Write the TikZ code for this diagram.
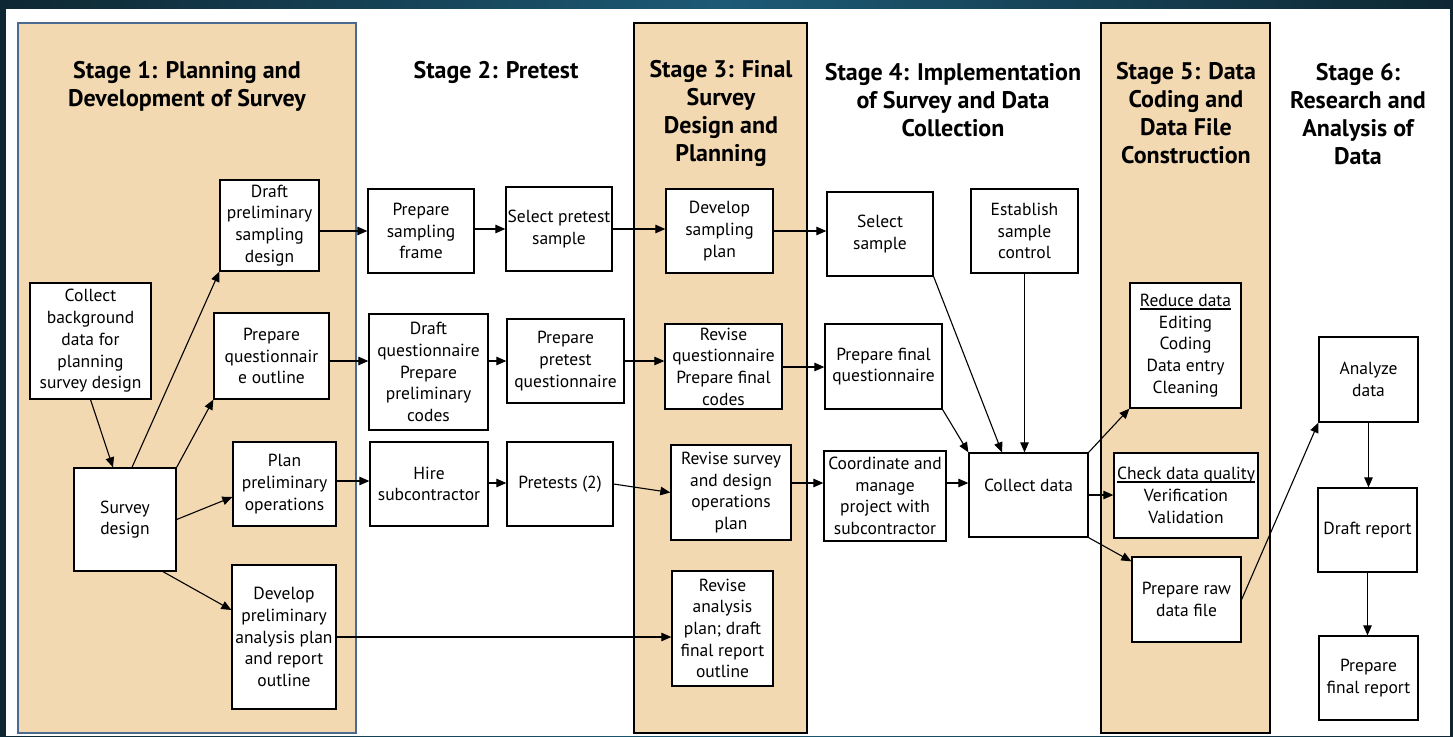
\documentclass[tikz,border=0pt]{standalone}
\usepackage{fontspec}
\setmainfont{PT Sans}
\usetikzlibrary{arrows.meta}
\definecolor{tanfill}{HTML}{F3D9B1}
\definecolor{panelblue}{HTML}{4A6A92}
\definecolor{frameA}{HTML}{0E2733}
\definecolor{frameB}{HTML}{1D5A75}
\newcommand{\thul}[1]{\leavevmode\setbox0=\hbox{#1}\rlap{\rule[-3.5pt]{\wd0}{2pt}}\box0}
\newcommand{\bx}[6]{\node[box, minimum width={(#4-#2)*1pt}, minimum height={(#5-#3)*1pt}] (#1) at ({(#2+#4)/2},{(#3+#5)/2}) {#6};}
\begin{document}
\begin{tikzpicture}[x=1pt,y=-1pt,
  box/.style={draw=black, fill=white, line width=1.3pt, align=center, inner sep=0pt, font=\fontsize{17.5}{21.7}\selectfont},
  lbl/.style={align=center, inner sep=0pt, font=\fontsize{17.5}{21.7}\selectfont},
  title/.style={align=center, inner sep=0pt, font=\fontsize{24}{28}\selectfont\bfseries},
  panelA/.style={draw=panelblue, fill=tanfill, line width=1.3pt},
  panelB/.style={draw=black, fill=tanfill, line width=1.3pt},
  arr/.style={-{Triangle[length=10pt,width=8.5pt]}, line width=1.1pt}]
\useasboundingbox (0,0) rectangle (1453,736);
\shade[left color=frameA, right color=frameA, middle color=frameB] (0,0) rectangle (1453,736);
\fill[white] (6,9) rectangle (1450,736);
% panels
\draw[panelA] (18,23) rectangle (356,733);
\draw[panelB] (634,23) rectangle (807,733);
\draw[panelB] (1101,23) rectangle (1270,733);
% titles
\node[title] (t1) at (187,86) {Stage 1: Planning and\\Development of Survey};
\node[title] (t2) at (496,72) {Stage 2: Pretest};
\node[title] (t3) at (721,113) {Stage 3: Final\\Survey\\Design and\\Planning};
\node[title] (t4) at (953,100) {Stage 4: Implementation\\of Survey and Data\\Collection};
\node[title] (t5) at (1186,113) {Stage 5: Data\\Coding and\\Data File\\Construction};
\node[title] (t6) at (1358,114) {Stage 6:\\Research and\\Analysis of\\Data};
% boxes
\bx{collectbg}{30}{283}{151}{399}{Collect\\background\\data for\\planning\\survey design}
\bx{survey}{74}{468}{176}{571}{Survey\\design}
\bx{draftsamp}{220}{180}{319}{271}{Draft\\preliminary\\sampling\\design}
\bx{qoutline}{214}{313}{329}{399}{Prepare\\questionnair\\e outline}
\bx{planops}{233}{442}{336}{526}{Plan\\preliminary\\operations}
\bx{devanal}{232}{565}{336}{709}{Develop\\preliminary\\analysis plan\\and report\\outline}
\bx{sampframe}{368}{189}{474}{273}{Prepare\\sampling\\frame}
\bx{selpre}{506}{187}{612}{271}{Select pretest\\sample}
\bx{draftq}{369}{314}{488}{430}{Draft\\questionnaire\\Prepare\\preliminary\\codes}
\bx{prepq}{507}{319}{624}{403}{Prepare\\pretest\\questionnaire}
\bx{hire}{370}{442}{488}{526}{Hire\\subcontractor}
\bx{pretests}{507}{442}{613}{526}{Pretests (2)}
\bx{devsamp}{666}{189}{773}{273}{Develop\\sampling\\plan}
\bx{revq}{665}{324}{782}{409}{Revise\\questionnaire\\Prepare final\\codes}
\bx{revsurv}{671}{445}{791}{540}{Revise survey\\and design\\operations\\plan}
\bx{revanal}{672}{571}{773}{686}{Revise\\analysis\\plan; draft\\final report\\outline}
\bx{selsamp}{827}{192}{933}{276}{Select\\sample}
\bx{establish}{971}{189}{1078}{273}{Establish\\sample\\control}
\bx{prepfq}{825}{324}{942}{409}{Prepare final\\questionnaire}
\bx{coord}{824}{451}{946}{541}{Coordinate and\\manage\\project with\\subcontractor}
\bx{collect}{969}{453}{1088}{537}{}
\node[lbl] (collectlbl) at ([yshift=10pt]collect.center) {Collect data};
\bx{reduce}{1130}{283}{1241}{408}{\thul{Reduce data}\\Editing\\Coding\\Data entry\\Cleaning}
\bx{check}{1114}{453}{1258}{538}{\thul{Check data quality}\\Verification\\Validation}
\bx{raw}{1132}{557}{1241}{642}{Prepare raw\\data file}
\bx{analyze}{1319}{337}{1418}{422}{Analyze\\data}
\bx{draftrep}{1318}{488}{1417}{572}{Draft report}
\bx{prepfinal}{1319}{636}{1418}{720}{Prepare\\final report}
% connectors stage 1
\draw[arr] (collectbg.south) -- ([xshift=-12pt]survey.north);
\draw[arr] ([xshift=7pt]survey.north) -- (draftsamp.south west);
\draw[arr] (survey.north east) -- (qoutline.south west);
\draw[arr] (survey.east) -- ([yshift=-13pt]planops.west);
\draw[arr] ([xshift=38pt]survey.south) -- ([yshift=27pt]devanal.west);
\draw[arr] (draftsamp.east |- 0,231) -- (sampframe.west |- 0,231);
\draw[arr] (qoutline.east |- 0,361) -- (draftq.west |- 0,361);
\draw[arr] (planops.east |- 0,481) -- (hire.west |- 0,481);
\draw[arr] (devanal.east) -- (revanal.west |- devanal.east);
% stage 2
\draw[arr] (sampframe.east |- 0,229) -- (selpre.west |- 0,229);
\draw[arr] (draftq.east |- 0,361) -- (prepq.west |- 0,361);
\draw[arr] (hire.east |- 0,483) -- (pretests.west |- 0,483);
\draw[arr] (selpre.east |- 0,229) -- (devsamp.west |- 0,229);
\draw[arr] (prepq.east |- 0,361) -- (revq.west |- 0,361);
\draw[arr] (pretests.east) -- (revsurv.west);
% stage 3 -> 4
\draw[arr] (devsamp.east |- 0,231) -- (selsamp.west |- 0,231);
\draw[arr] (revq.east |- 0,367) -- (prepfq.west |- 0,367);
\draw[arr] (revsurv.east |- 0,483) -- (coord.west |- 0,483);
% stage 4
\draw[arr] (selsamp.south east) -- ([xshift=-26.5pt]collect.north);
\draw[arr] (prepfq.south east) -- (collect.north west);
\draw[arr] (establish.south) -- (establish.south |- collect.north);
\draw[arr] (coord.east |- 0,483) -- (collect.west |- 0,483);
% stage 5
\draw[arr] (collect.north east) -- (reduce.south west);
\draw[arr] (collect.east |- 0,495) -- (check.west |- 0,495);
\draw[arr] (collect.south east) -- ([yshift=-5pt]raw.north west);
\draw[arr] (raw.east) -- (analyze.south west);
% stage 6
\draw[arr] (analyze.south) -- (analyze.south |- draftrep.north);
\draw[arr] (draftrep.south) -- (draftrep.south |- prepfinal.north);
\end{tikzpicture}
\end{document}
